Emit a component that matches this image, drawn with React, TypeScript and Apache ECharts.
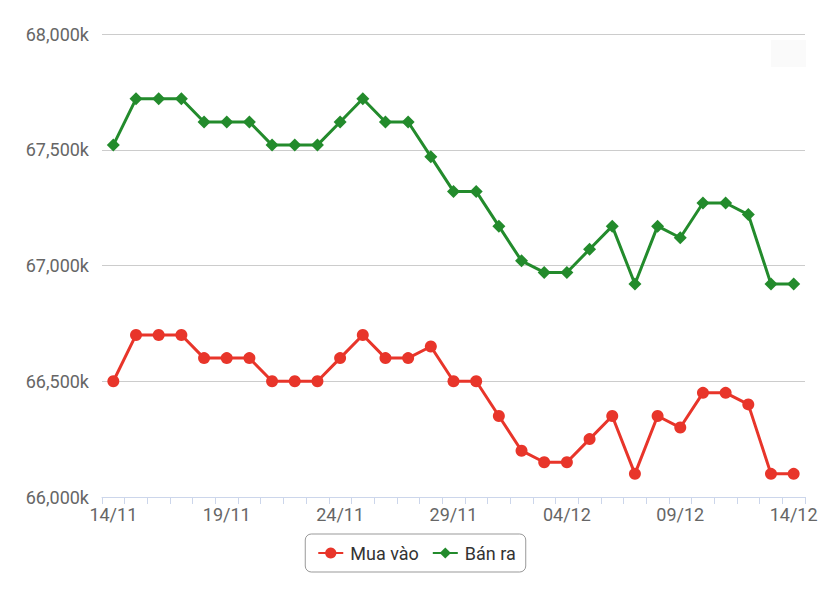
import React, { useEffect, useRef } from "react";
import * as echarts from "echarts";

const categories: string[] = [
  "14/11", "15/11", "16/11", "17/11", "18/11", "19/11", "20/11", "21/11", "22/11", "23/11",
  "24/11", "25/11", "26/11", "27/11", "28/11", "29/11", "30/11", "01/12", "02/12", "03/12",
  "04/12", "05/12", "06/12", "07/12", "08/12", "09/12", "10/12", "11/12", "12/12", "13/12", "14/12",
];

const muaVao: number[] = [
  66500, 66700, 66700, 66700, 66600, 66600, 66600, 66500, 66500, 66500,
  66600, 66700, 66600, 66600, 66650, 66500, 66500, 66350, 66200, 66150,
  66150, 66250, 66350, 66100, 66350, 66300, 66450, 66450, 66400, 66100, 66100,
];

const banRa: number[] = [
  67520, 67720, 67720, 67720, 67620, 67620, 67620, 67520, 67520, 67520,
  67620, 67720, 67620, 67620, 67470, 67320, 67320, 67170, 67020, 66970,
  66970, 67070, 67170, 66920, 67170, 67120, 67270, 67270, 67220, 66920, 66920,
];

const yTicks = { min: 66000, max: 68000, interval: 500 };

const FONT = "Roboto, 'Noto Sans', sans-serif";

export default function App() {
  const ref = useRef<HTMLDivElement>(null);
  useEffect(() => {
    if (!ref.current) return;
    const chart = echarts.init(ref.current, undefined, { renderer: "svg" });
    chart.setOption({
      animation: false,
      backgroundColor: "#ffffff",
      textStyle: { fontFamily: FONT },
      grid: { left: 102, right: 28, top: 34, bottom: 103, containLabel: false },
      xAxis: {
        type: "category",
        data: categories,
        boundaryGap: true,
        axisLine: { show: true, lineStyle: { color: "#ccd6eb", width: 1 } },
        axisTick: { show: true, interval: 0, length: 7, lineStyle: { color: "#ccd6eb" } },
        axisLabel: {
          interval: 4,
          color: "#666666",
          fontSize: 18,
          fontFamily: FONT,
          margin: 8,
        },
        splitLine: { show: false },
      },
      yAxis: {
        type: "value",
        min: yTicks.min,
        max: yTicks.max,
        interval: yTicks.interval,
        axisLine: { show: false },
        axisTick: { show: false },
        axisLabel: {
          color: "#666666",
          fontSize: 18,
          fontFamily: FONT,
          margin: 13,
          formatter: (v: number) => v.toLocaleString("en-US") + "k",
        },
        splitLine: { show: true, lineStyle: { color: "#cccccc", width: 1 } },
      },
      legend: {
        show: true,
        left: "center",
        top: 534,
        orient: "horizontal",
        backgroundColor: "#ffffff",
        borderColor: "#999999",
        borderWidth: 1,
        borderRadius: 6,
        padding: [10, 10, 10, 12],
        itemWidth: 25,
        itemHeight: 14,
        itemGap: 13,
        textStyle: { color: "#333333", fontSize: 18, fontFamily: FONT, padding: [0, 0, 0, 2] },
        data: ["Mua vào", "Bán ra"],
      },
      graphic: [
        {
          type: "rect",
          shape: { x: 771, y: 40, width: 35, height: 27 },
          style: { fill: "#fafafa" },
          silent: true,
          z: -1,
        },
      ],
      series: [
        {
          name: "Mua vào",
          type: "line",
          data: muaVao,
          symbol: "circle",
          symbolSize: 12,
          showAllSymbol: true,
          lineStyle: { color: "#e8352a", width: 3 },
          itemStyle: { color: "#e8352a" },
        },
        {
          name: "Bán ra",
          type: "line",
          data: banRa,
          symbol: "diamond",
          symbolSize: 13,
          showAllSymbol: true,
          lineStyle: { color: "#238b2c", width: 3 },
          itemStyle: { color: "#238b2c" },
        },
      ],
    });
    return () => chart.dispose();
  }, []);
  return <div ref={ref} style={{ width: 833, height: 600, position: "absolute", left: 0, top: 0 }} />;
}
